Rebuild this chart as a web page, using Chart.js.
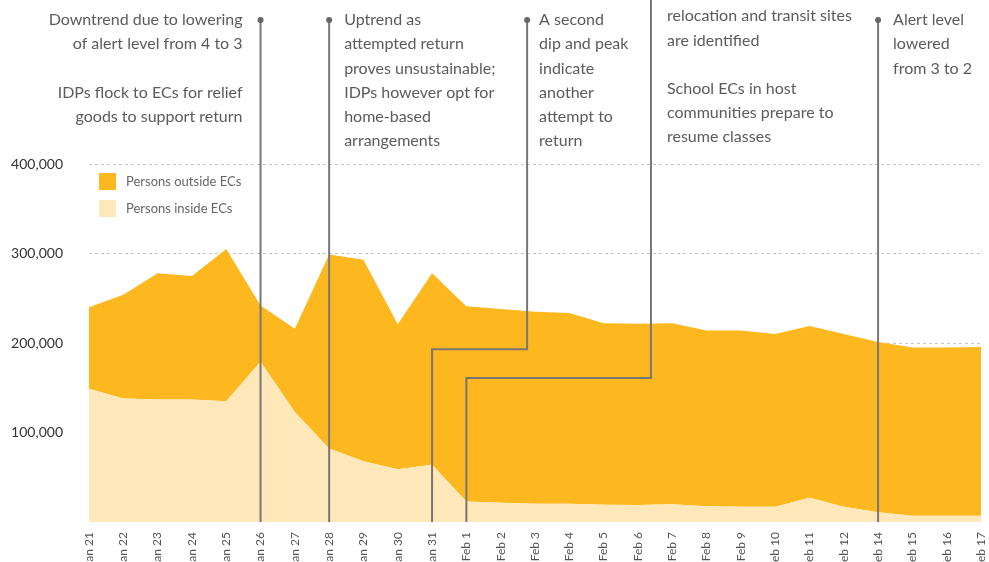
<!DOCTYPE html>
<html>
<head>
<meta charset="utf-8">
<script src="https://cdn.jsdelivr.net/npm/chart.js@4.4.1/dist/chart.umd.min.js"></script>
<style>
  body { margin: 0; background: #fff; }
  #wrap { width: 989px; height: 562px; }
</style>
</head>
<body>
<div id="wrap"><canvas id="idpChart" width="989" height="562"></canvas></div>
<script>
// data
const dayLabels = ["Jan 21","Jan 22","Jan 23","Jan 24","Jan 25","Jan 26","Jan 27","Jan 28","Jan 29","Jan 30","Jan 31",
  "Feb 1","Feb 2","Feb 3","Feb 4","Feb 5","Feb 6","Feb 7","Feb 8","Feb 9","Feb 10","Feb 11","Feb 12","Feb 14","Feb 15","Feb 16","Feb 17"];
const insideECs = [149000,138000,137000,137000,135000,179000,123000,82000,68000,59000,64000,
  23000,21500,20500,20500,19300,19000,19700,17500,17000,17000,27000,17000,10800,7000,7000,7000];
const outsideECs = [91000,116000,141000,138000,170000,63000,93000,217000,225000,162000,214000,
  218000,216500,214500,213000,202700,202500,202300,196500,197000,193000,192000,193000,190200,188000,188000,188500];
const yTicks = [100000,200000,300000,400000];

// annotations (text + connector lines)
const notes = [
  { at: "Jan 26", dotY: 20, side: "left", textY: 20,
    lines: ["Downtrend due to lowering","of alert level from 4 to 3","","IDPs flock to ECs for relief","goods to support return"] },
  { at: "Jan 28", dotY: 20, side: "right", textY: 20,
    lines: ["Uptrend as","attempted return","proves unsustainable;","IDPs however opt for","home-based","arrangements"] },
  { at: "Jan 31", jogX: 12.77, jogY: 193000, dotY: 20, side: "right", textY: 20, gap: 12,
    lines: ["A second","dip and peak","indicate","another","attempt to","return"] },
  { at: "Feb 1", jogX: 16.38, jogY: 161000, dotY: -30, side: "right", textY: -8, gap: 16,
    lines: ["Longer-term","relocation and transit sites","are identified","","School ECs in host","communities prepare to","resume classes"] },
  { at: "Feb 14", dotY: 20, side: "right", textY: 20,
    lines: ["Alert level","lowered","from 3 to 2"] }
];

const textFont = "Lato, 'Open Sans', sans-serif";

const notesPlugin = {
  id: "notes",
  afterDatasetsDraw(chart) {
    const ctx = chart.ctx;
    const xs = chart.scales.x, ys = chart.scales.y;
    const bottom = chart.chartArea.bottom;
    ctx.save();
    notes.forEach(function(n) {
      const x0 = xs.getPixelForValue(dayLabels.indexOf(n.at));
      let topX = x0;
      ctx.strokeStyle = "#777";
      ctx.lineWidth = 2;
      ctx.beginPath();
      ctx.moveTo(x0, bottom);
      if (n.jogX !== undefined) {
        const jy = ys.getPixelForValue(n.jogY);
        topX = xs.getPixelForValue(n.jogX);
        ctx.lineTo(x0, jy);
        ctx.lineTo(topX, jy);
      }
      ctx.lineTo(topX, n.dotY);
      ctx.stroke();
      ctx.fillStyle = "#666";
      ctx.beginPath();
      ctx.arc(topX, n.dotY, 3, 0, Math.PI * 2);
      ctx.fill();

      const gap = n.gap || 15;
      ctx.fillStyle = "#5b5b5b";
      ctx.font = "16px " + textFont;
      ctx.textBaseline = "middle";
      ctx.textAlign = n.side === "left" ? "right" : "left";
      const tx = n.side === "left" ? topX - gap - 3 : topX + gap;
      n.lines.forEach(function(line, i) {
        ctx.fillText(line, tx, n.textY + i * 24.2);
      });
    });
    ctx.restore();
  },
  afterDraw(chart) {
    // legend inside the plot
    const ctx = chart.ctx;
    const ds = chart.data.datasets.slice().reverse();
    ctx.save();
    ctx.font = "13px " + textFont;
    ctx.textBaseline = "middle";
    ctx.textAlign = "left";
    ds.forEach(function(d, i) {
      const y = 182 + i * 27;
      ctx.fillStyle = d.backgroundColor;
      ctx.fillRect(99, y - 9, 17, 17);
      ctx.fillStyle = "#666";
      ctx.fillText(d.label, 126, y);
    });
    ctx.restore();
  }
};

new Chart("idpChart", {
  type: "line",
  data: {
    labels: dayLabels,
    datasets: [{
      label: "Persons inside ECs",
      data: insideECs,
      backgroundColor: "#fee8b9",
      borderWidth: 0,
      pointRadius: 0,
      fill: "origin"
    }, {
      label: "Persons outside ECs",
      data: outsideECs,
      backgroundColor: "#fdb71f",
      borderWidth: 0,
      pointRadius: 0,
      fill: "-1"
    }]
  },
  options: {
    responsive: false,
    animation: false,
    devicePixelRatio: 1,
    layout: { padding: { top: 164, right: 8, left: 0, bottom: 0 } },
    plugins: { legend: { display: false }, tooltip: { enabled: false } },
    scales: {
      x: {
        offset: false,
        grid: { display: false, drawTicks: false },
        border: { display: false },
        ticks: {
          autoSkip: false, minRotation: 90, maxRotation: 90, padding: 10,
          color: "#555", font: { family: textFont, size: 12 }
        },
        afterFit: function(s) {
          s.height = 40;
          s.paddingLeft = 0;
          s.paddingRight = 0;
        }
      },
      y: {
        stacked: true,
        min: 0, max: 400000,
        border: { display: false, dash: [3, 3] },
        grid: {
          drawTicks: false,
          color: function(c) { return yTicks.indexOf(c.tick.value) >= 0 ? "#c4c4c4" : "rgba(0,0,0,0)"; }
        },
        ticks: {
          stepSize: 100000, padding: 26, color: "#333",
          font: { family: textFont, size: 14 },
          callback: function(v) { return yTicks.indexOf(v) >= 0 ? v.toLocaleString("en-US") : ""; }
        },
        afterFit: function(s) { s.width = 89; }
      }
    }
  },
  plugins: [notesPlugin]
});
</script>
</body>
</html>
